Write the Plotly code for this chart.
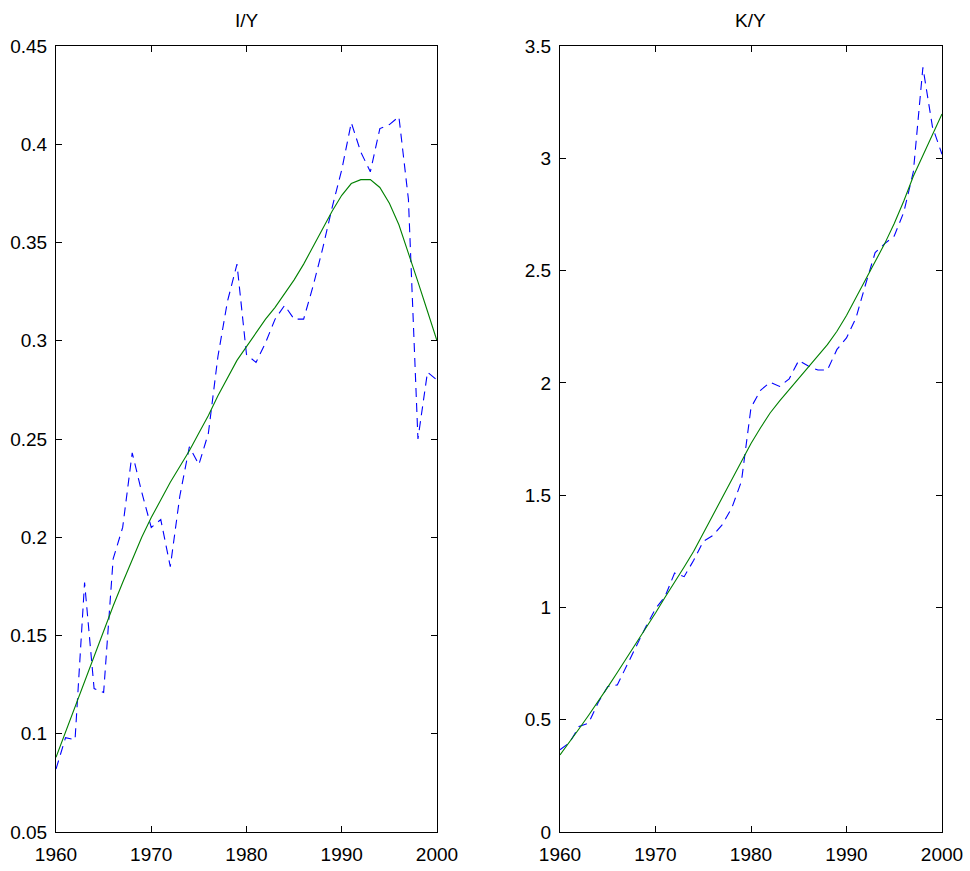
import plotly.graph_objects as go

years = list(range(1960, 2001))

iy_actual = [0.082, 0.098, 0.097, 0.177, 0.123, 0.121, 0.189, 0.205, 0.243, 0.223,
             0.205, 0.209, 0.185, 0.221, 0.246, 0.237, 0.253, 0.292, 0.320, 0.339,
             0.293, 0.289, 0.299, 0.311, 0.318, 0.311, 0.311, 0.328, 0.347, 0.368,
             0.387, 0.411, 0.396, 0.386, 0.408, 0.410, 0.414, 0.372, 0.250, 0.284,
             0.280]
iy_trend = [0.088, 0.101, 0.114, 0.127, 0.140, 0.152, 0.165, 0.177, 0.189, 0.200,
            0.210, 0.219, 0.228, 0.236, 0.244, 0.253, 0.262, 0.272, 0.281, 0.290,
            0.297, 0.304, 0.311, 0.317, 0.324, 0.331, 0.339, 0.348, 0.357, 0.366,
            0.374, 0.380, 0.382, 0.382, 0.378, 0.370, 0.359, 0.345, 0.330, 0.315,
            0.300]

ky_actual = [0.366, 0.398, 0.470, 0.485, 0.577, 0.648, 0.655, 0.744, 0.826, 0.915,
             0.994, 1.049, 1.153, 1.137, 1.210, 1.294, 1.320, 1.369, 1.444, 1.562,
             1.890, 1.967, 2.003, 1.984, 2.018, 2.100, 2.075, 2.057, 2.057, 2.149,
             2.200, 2.290, 2.439, 2.580, 2.620, 2.654, 2.760, 2.940, 3.405, 3.140,
             3.018]
ky_trend = [0.343, 0.400, 0.460, 0.520, 0.580, 0.645, 0.710, 0.775, 0.840, 0.905,
            0.975, 1.045, 1.110, 1.180, 1.250, 1.330, 1.410, 1.490, 1.570, 1.650,
            1.730, 1.800, 1.866, 1.920, 1.970, 2.020, 2.070, 2.120, 2.170, 2.230,
            2.300, 2.380, 2.460, 2.540, 2.620, 2.710, 2.810, 2.920, 3.015, 3.105,
            3.197]

titles = ["I/Y", "K/Y"]
x_ticks = [1960, 1970, 1980, 1990, 2000]
iy_ticks = [0.05, 0.1, 0.15, 0.2, 0.25, 0.3, 0.35, 0.4, 0.45]
iy_ticktext = ["0.05", "0.1", "0.15", "0.2", "0.25", "0.3", "0.35", "0.4", "0.45"]
ky_ticks = [0, 0.5, 1, 1.5, 2, 2.5, 3, 3.5]
ky_ticktext = ["0", "0.5", "1", "1.5", "2", "2.5", "3", "3.5"]

W, H = 970, 871
FONT = "Liberation Sans, Arial, sans-serif"
BLUE = "#0000ff"
GREEN = "#008000"
DASH = "9px,6px"

fig = go.Figure()
fig.add_trace(go.Scatter(x=years, y=iy_actual, mode="lines", xaxis="x", yaxis="y",
                         line=dict(color=BLUE, width=1.1, dash=DASH), showlegend=False))
fig.add_trace(go.Scatter(x=years, y=iy_trend, mode="lines", xaxis="x", yaxis="y",
                         line=dict(color=GREEN, width=1.1), showlegend=False))
fig.add_trace(go.Scatter(x=years, y=ky_actual, mode="lines", xaxis="x2", yaxis="y2",
                         line=dict(color=BLUE, width=1.1, dash=DASH), showlegend=False))
fig.add_trace(go.Scatter(x=years, y=ky_trend, mode="lines", xaxis="x2", yaxis="y2",
                         line=dict(color=GREEN, width=1.1), showlegend=False))

left_dom = [56 / W, 437 / W]
right_dom = [560 / W, 942 / W]
y_dom = [1 - 832 / H, 1 - 46 / H]

axis_common = dict(showline=True, linecolor="black", linewidth=1, mirror="ticks",
                   ticks="inside", ticklen=6, tickcolor="black", tickwidth=1,
                   showgrid=False, zeroline=False, automargin=False,
                   tickfont=dict(family=FONT, size=19, color="black"))

fig.update_layout(
    width=W, height=H,
    margin=dict(l=0, r=0, t=0, b=0, autoexpand=False),
    paper_bgcolor="white", plot_bgcolor="white",
    xaxis=dict(domain=left_dom, range=[1960, 2000], tickvals=x_ticks, anchor="y",
               ticklabelstandoff=5, **axis_common),
    yaxis=dict(domain=y_dom, range=[0.05, 0.45], tickvals=iy_ticks, ticktext=iy_ticktext,
               anchor="x", ticklabelstandoff=4, **axis_common),
    xaxis2=dict(domain=right_dom, range=[1960, 2000], tickvals=x_ticks, anchor="y2",
                ticklabelstandoff=5, **axis_common),
    yaxis2=dict(domain=y_dom, range=[0, 3.5], tickvals=ky_ticks, ticktext=ky_ticktext,
                anchor="x2", ticklabelstandoff=4, **axis_common),
    annotations=[
        dict(text=titles[0], x=(left_dom[0] + left_dom[1]) / 2, y=1 - 20 / H,
             xref="paper", yref="paper", showarrow=False, xanchor="center", yanchor="middle",
             font=dict(family=FONT, size=19, color="black")),
        dict(text=titles[1], x=(right_dom[0] + right_dom[1]) / 2, y=1 - 20 / H,
             xref="paper", yref="paper", showarrow=False, xanchor="center", yanchor="middle",
             font=dict(family=FONT, size=19, color="black")),
    ],
)

fig.write_html("out.html")
